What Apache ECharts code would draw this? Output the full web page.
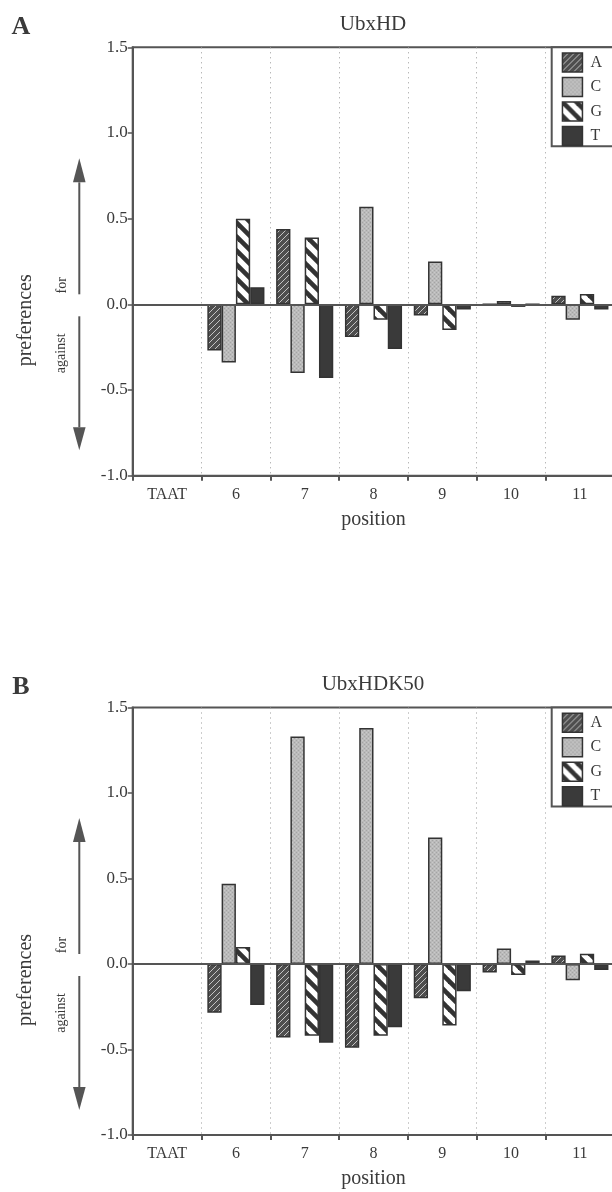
<!DOCTYPE html>
<html><head><meta charset="utf-8">
<script src="https://cdn.jsdelivr.net/npm/echarts@6/dist/echarts.min.js"></script>
<style>html,body{margin:0;padding:0;background:#fff}#c{width:612px;height:1192px}</style>
</head><body><div id="c"></div>
<script>
// ---- data ----
const categories = ['TAAT', '6', '7', '8', '9', '10', '11'];
const bases = ['A', 'C', 'G', 'T'];
const panelLabels = ['A', 'B'];
const panelTitles = ['UbxHD', 'UbxHDK50'];
const yMin = -1.0, yMax = 1.5, yStep = 0.5;

// Panel A: UbxHD
const ubxHD_A = [null, -0.27, 0.44, -0.19, -0.065, 0, 0.05];
const ubxHD_C = [null, -0.34, -0.40, 0.57, 0.25, 0.02, -0.09];
const ubxHD_G = [null, 0.50, 0.39, -0.09, -0.15, -0.015, 0.06];
const ubxHD_T = [null, 0.10, -0.43, -0.26, -0.03, 0, -0.03];

// Panel B: UbxHDK50
const k50_A = [null, -0.285, -0.43, -0.49, -0.20, -0.05, 0.05];
const k50_C = [null, 0.47, 1.33, 1.38, 0.74, 0.09, -0.095];
const k50_G = [null, 0.10, -0.42, -0.42, -0.36, -0.065, 0.06];
const k50_T = [null, -0.24, -0.46, -0.37, -0.16, 0.02, -0.035];

const panelSeries = [
  [ubxHD_A, ubxHD_C, ubxHD_G, ubxHD_T],
  [k50_A, k50_C, k50_G, k50_T]
];

// ---- styles ----
const FONT = '"Liberation Serif", "DejaVu Serif", serif';
const INK = '#3a3a3a';
const AXIS = '#555';

function patternA() {
  const s = 6, c = document.createElement('canvas');
  c.width = s; c.height = s;
  const g = c.getContext('2d');
  g.fillStyle = '#4e4e4e'; g.fillRect(0, 0, s, s);
  g.strokeStyle = '#c4c4c4'; g.lineWidth = 1;
  for (let k = -1; k <= 1; k++) {
    g.beginPath(); g.moveTo(k * s - 1, s + 1); g.lineTo(k * s + s + 1, -1); g.stroke();
  }
  return { image: c, repeat: 'repeat' };
}
function patternC() {
  const s = 4, c = document.createElement('canvas');
  c.width = s; c.height = s;
  const g = c.getContext('2d');
  g.fillStyle = '#bababa'; g.fillRect(0, 0, s, s);
  g.fillStyle = '#a4a4a4';
  g.fillRect(0, 0, 1, 1); g.fillRect(2, 2, 1, 1);
  g.fillStyle = '#cacaca';
  g.fillRect(2, 0, 1, 1); g.fillRect(0, 2, 1, 1);
  return { image: c, repeat: 'repeat' };
}
function patternG() {
  const s = 14, c = document.createElement('canvas');
  c.width = s; c.height = s;
  const g = c.getContext('2d');
  g.fillStyle = '#ffffff'; g.fillRect(0, 0, s, s);
  g.strokeStyle = '#333'; g.lineWidth = 4.6;
  for (let k = -1; k <= 1; k++) {
    g.beginPath(); g.moveTo(k * s - 3, -3); g.lineTo(k * s + s + 3, s + 3); g.stroke();
  }
  return { image: c, repeat: 'repeat' };
}
const fills = [patternA(), patternC(), patternG(), '#3a3a3a'];

const grids = [
  { left: 132.7, top: 47.3, width: 481.6, height: 428.4 },
  { left: 132.7, top: 707.5, width: 481.6, height: 427.5 }
];

const option = {
  backgroundColor: '#ffffff',
  animation: false,
  grid: grids.map(g => Object.assign({
    show: true, borderColor: AXIS, borderWidth: 2, backgroundColor: 'transparent',
    containLabel: false, outerBoundsMode: 'none'
  }, g)),
  xAxis: grids.map((g, i) => ({
    type: 'category', gridIndex: i, data: categories, boundaryGap: true,
    name: 'position', nameLocation: 'middle', nameGap: 34,
    nameTextStyle: { fontFamily: FONT, fontSize: 20, color: INK },
    axisLine: { show: true, onZero: false, lineStyle: { color: AXIS, width: 2 } },
    axisTick: { show: true, length: 5, inside: false, lineStyle: { color: AXIS, width: 2 } },
    axisLabel: { fontFamily: FONT, fontSize: 16, color: INK, margin: 11 },
    splitLine: { show: true, lineStyle: { color: '#9a9a9a', width: 1, type: [1, 4] } }
  })),
  yAxis: grids.map((g, i) => ({
    type: 'value', gridIndex: i, min: yMin, max: yMax, interval: yStep,
    axisLine: { show: true, lineStyle: { color: AXIS, width: 2 } },
    axisTick: { show: true, length: 5, lineStyle: { color: AXIS, width: 1.5 } },
    axisLabel: { fontFamily: FONT, fontSize: 17, color: INK, margin: 5, formatter: v => v.toFixed(1) },
    splitLine: { show: false }
  })),
  legend: grids.map((g, i) => ({
    data: bases, orient: 'vertical', left: 551.7, top: g.top,
    icon: 'rect', itemWidth: 20, itemHeight: 19, itemGap: 4,
    padding: [5, 0, 7, 10],
    borderWidth: 0, backgroundColor: 'transparent',
    selectedMode: false, z: 10,
    textStyle: { fontFamily: FONT, fontSize: 16, color: INK, padding: [0, 0, 0, 3] },
    itemStyle: { borderColor: '#333', borderWidth: 1.5 }
  })),
  series: [],
  graphic: []
};

panelSeries.forEach((arrs, p) => {
  arrs.forEach((vals, b) => {
    const s = {
      type: 'bar', name: bases[b], xAxisIndex: p, yAxisIndex: p,
      data: vals, barGap: '0%', barCategoryGap: '17%',
      itemStyle: { color: fills[b], borderColor: '#333', borderWidth: 1.5 },
      emphasis: { disabled: true }
    };
    if (b === 0) {
      s.markLine = {
        silent: true, symbol: 'none', label: { show: false },
        lineStyle: { color: AXIS, width: 1.8, type: 'solid' },
        data: [{ yAxis: 0 }]
      };
    }
    option.series.push(s);
  });
});

// annotations
const zeroY = [304.3, 964];
const topY = [47.3, 707.5];
panelLabels.forEach((lab, p) => {
  const z = zeroY[p], t = topY[p];
  option.graphic.push(
    // legend frame (extends past the right edge like the cropped original)
    { type: 'rect', z: 5, shape: { x: 551.7, y: t, width: 80, height: 99 }, style: { fill: '#fff', stroke: AXIS, lineWidth: 2 } },
    { type: 'text', x: 21, y: t - 20, style: { text: lab, font: 'bold 26px ' + FONT, fill: INK, align: 'center', verticalAlign: 'middle' } },
    { type: 'text', x: 373, y: t - 23, style: { text: panelTitles[p], font: '21px ' + FONT, fill: INK, align: 'center', verticalAlign: 'middle' } },
    { type: 'text', x: 26, y: z + 16, rotation: Math.PI / 2, style: { text: 'preferences', font: '20px ' + FONT, fill: INK, align: 'center', verticalAlign: 'middle' } },
    { type: 'text', x: 62, y: z - 19, rotation: Math.PI / 2, style: { text: 'for', font: '14px ' + FONT, fill: INK, align: 'center', verticalAlign: 'middle' } },
    { type: 'text', x: 61, y: z + 49, rotation: Math.PI / 2, style: { text: 'against', font: '14px ' + FONT, fill: INK, align: 'center', verticalAlign: 'middle' } },
    { type: 'line', shape: { x1: 79.3, y1: z - 10, x2: 79.3, y2: z - 122 }, style: { stroke: AXIS, lineWidth: 2 } },
    { type: 'polygon', shape: { points: [[73, z - 122], [85.6, z - 122], [79.3, z - 146]] }, style: { fill: AXIS } },
    { type: 'line', shape: { x1: 79.3, y1: z + 12, x2: 79.3, y2: z + 123 }, style: { stroke: AXIS, lineWidth: 2 } },
    { type: 'polygon', shape: { points: [[73, z + 123], [85.6, z + 123], [79.3, z + 146]] }, style: { fill: AXIS } }
  );
});

const chart = echarts.init(document.getElementById('c'), null, { renderer: 'canvas' });
chart.setOption(option);
</script>
</body></html>
